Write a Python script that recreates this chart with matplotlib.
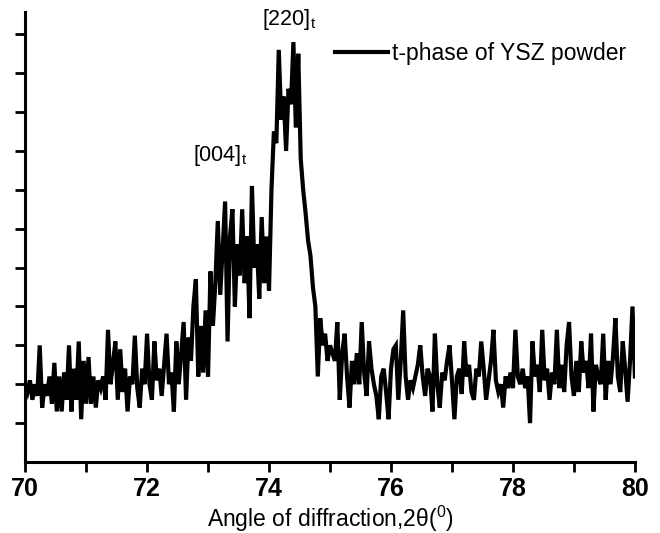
import numpy as np
import matplotlib
matplotlib.use("Agg")
import matplotlib.pyplot as plt
from matplotlib.ticker import MultipleLocator

plt.rcParams['font.family'] = ['Liberation Sans', 'DejaVu Sans']
plt.rcParams['mathtext.fontset'] = 'custom'
plt.rcParams['mathtext.rm'] = 'Liberation Sans'

# Diffraction angle range (2θ, degrees) and intensity (arb. units)
angle_start = 70.0
angle_end = 80.0
intensity = [
    2.0, 1.8, 2.1, 1.6, 2.0, 1.7, 3.0, 1.4, 2.0, 1.7,
    2.2, 1.5, 2.55, 1.3, 2.2, 1.3, 2.3, 1.6, 3.0, 1.3,
    2.4, 1.6, 3.1, 1.1, 2.6, 1.5, 2.7, 1.5, 2.2, 1.4,
    2.1, 1.9, 2.2, 1.6, 3.4, 2.0, 2.5, 3.1, 1.6, 2.9,
    1.8, 2.4, 1.3, 2.2, 2.0, 3.25, 1.9, 1.4, 2.4, 2.0,
    3.3, 2.0, 1.6, 3.1, 2.1, 2.4, 1.7, 2.5, 3.3, 2.0,
    2.3, 1.3, 3.1, 2.0, 2.8, 3.6, 1.6, 3.2, 2.6, 4.0,
    4.7, 2.2, 3.5, 2.3, 3.9, 2.2, 4.9, 3.5, 4.6, 6.2,
    4.3, 5.5, 6.7, 3.1, 5.8, 6.5, 4.0, 5.6, 4.8, 6.5,
    4.6, 5.8, 3.7, 7.1, 5.0, 5.6, 4.2, 6.3, 4.6, 5.8,
    4.4, 7.0, 8.5, 8.2, 10.6, 8.8, 9.4, 8.0, 9.6, 9.2,
    10.8, 8.6, 10.5, 7.8, 7.0, 6.4, 5.7, 5.3, 4.5, 4.0,
    2.2, 3.7, 3.0, 3.3, 2.6, 3.0, 2.8, 2.6, 3.6, 1.6,
    2.8, 3.3, 2.2, 1.4, 2.6, 2.0, 2.8, 2.0, 3.6, 2.3,
    1.7, 3.1, 2.4, 2.0, 1.7, 1.1, 2.2, 2.4, 1.8, 1.1,
    2.4, 2.9, 3.0, 1.6, 2.6, 3.9, 2.2, 1.6, 2.1, 1.9,
    2.2, 2.5, 3.0, 2.2, 1.7, 2.4, 2.2, 1.3, 3.3, 2.0,
    1.4, 2.3, 2.1, 2.6, 3.0, 2.1, 1.1, 2.2, 2.4, 1.75,
    3.1, 2.2, 2.5, 1.8, 1.6, 2.4, 2.2, 3.1, 2.4, 1.6,
    2.1, 2.6, 3.4, 2.1, 1.8, 2.0, 1.4, 2.2, 1.9, 2.3,
    1.9, 3.4, 2.2, 2.0, 2.4, 1.9, 2.2, 1.0, 3.1, 2.2,
    2.5, 1.8, 3.4, 2.1, 2.4, 1.6, 2.3, 2.0, 3.4, 1.9,
    2.5, 1.8, 3.0, 3.6, 2.2, 1.7, 2.6, 1.8, 3.1, 2.3,
    2.6, 1.9, 3.3, 1.3, 2.5, 2.2, 2.0, 3.3, 1.6, 2.6,
    2.0, 2.7, 3.7, 2.2, 1.8, 3.1, 2.4, 1.55, 2.6, 4.0,
    2.2,
]
angles = np.linspace(angle_start, angle_end, len(intensity))

x_ticks = [70, 72, 74, 76, 78, 80]
series_label = "t-phase of YSZ powder"
peak_labels = ["[220]", "[004]"]
peak_positions = [(73.88, 11.05), (72.75, 7.55)]

fig = plt.figure(figsize=(6.6, 5.33), dpi=100)
ax = fig.add_axes([0.038, 0.1332, 0.924, 0.844])

ax.plot(angles, intensity, color='black', lw=3.0, label=series_label,
        solid_joinstyle='miter')

ax.set_xlim(70, 80)
ax.set_ylim(0, 11.57)
ax.xaxis.set_major_locator(MultipleLocator(2))
ax.xaxis.set_minor_locator(MultipleLocator(1))
ax.set_xticks(x_ticks)
ax.set_xticklabels([str(t) for t in x_ticks], fontsize=18, fontweight='bold')
ax.set_yticks(np.arange(1, 12))
ax.set_yticklabels([])
ax.tick_params(axis='both', which='both', direction='out', length=7, width=2)
ax.tick_params(axis='x', which='major', pad=4)

for s in ['top', 'right']:
    ax.spines[s].set_visible(False)
for s in ['left', 'bottom']:
    ax.spines[s].set_linewidth(2.2)

ax.set_xlabel(r"Angle of diffraction,2θ($^{0}$)", fontsize=16.5, labelpad=2)

for lab, (px, py) in zip(peak_labels, peak_positions):
    ax.text(px, py, lab + r"$_{\mathrm{t}}$", fontsize=15.5, ha='left', va='bottom')

leg = ax.legend(loc='upper right', bbox_to_anchor=(1.0, 0.955), frameon=False,
                fontsize=16.5, handlelength=2.3, handletextpad=0.15, borderaxespad=0)
for h in leg.get_lines():
    h.set_linewidth(3.0)

fig.savefig('out.png', dpi=100)
